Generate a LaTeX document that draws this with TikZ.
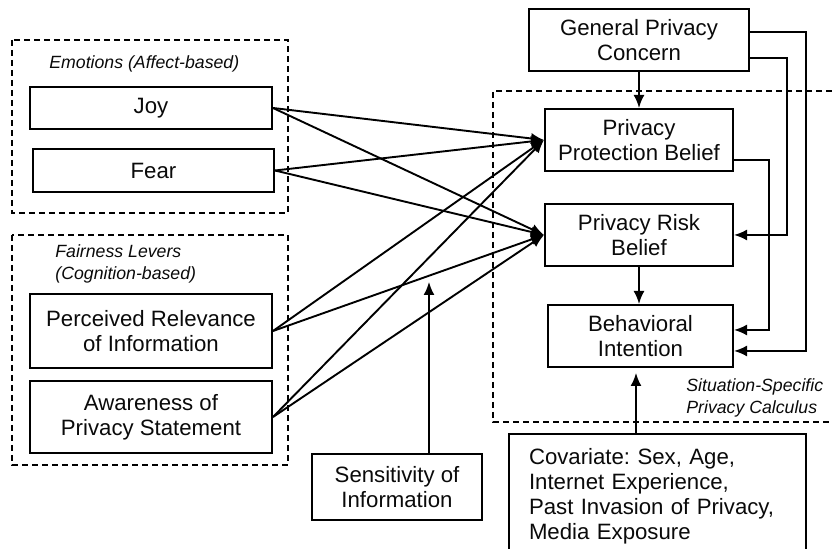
\documentclass[tikz,border=0pt]{standalone}
\usepackage{fontspec}
\setmainfont{Liberation Sans}
\usepackage{tikz}
\usetikzlibrary{
  arrows.meta,
  positioning,
  calc
}
\definecolor{linecolor}{RGB}{0, 0, 0}
\definecolor{labelcolor}{RGB}{10, 10, 10}
\tikzset{
blocktext/.style={
  align=center,
  font=\fontsize{11.1}{12.5}\selectfont,
  text=labelcolor
},
constructbox/.style={
  draw=linecolor,
  line width=1pt,
  fill=white,
  inner sep=0pt,
  blocktext
},
grouplabel/.style={
  font=\itshape\fontsize{8.85}{11}\selectfont,
  text=labelcolor,
  align=left,
  inner sep=0pt
},
groupframe/.style={
  draw=linecolor,
  dash pattern=on 3pt off 2pt,
  line width=0.65pt
},
arrow/.style={
  -{Latex[length=6.5pt,width=5.5pt]},
  line width=0.95pt,
  draw=linecolor
}
}
\frenchspacing

\begin{document}
\begin{tikzpicture}[x=0.5pt, y=-0.5pt]
  \useasboundingbox (0,0) rectangle (832,549);
  \clip (0,0) rectangle (832,549);

  \draw[groupframe] (12,40) rectangle (288,213);
  \draw[groupframe] (12,235) rectangle (288,465);
  \draw[groupframe] (832,91) -| (493,422) -- (832,422);

  \node[grouplabel, anchor=north west] (emolabel) at (49,55) {Emotions (Affect-based)};
  \node[grouplabel, anchor=north west] (fairlabel) at (55,244) {Fairness Levers\\(Cognition-based)};
  \node[grouplabel, anchor=north west] (calclabel) at (686,378) {Situation-Specific\\Privacy Calculus};

  \node[constructbox, minimum width=121pt, minimum height=21pt] (joy) at (151,108) {Joy};
  \node[constructbox, minimum width=120.5pt, minimum height=21.5pt] (fear) at (153.5,170.5) {Fear};
  \node[constructbox, minimum width=121pt, minimum height=37pt] (relev) at (151,331) {Perceived Relevance\\of Information};
  \node[constructbox, minimum width=121pt, minimum height=36pt] (aware) at (151,417) {Awareness of\\Privacy Statement};
  \node[constructbox, minimum width=85pt, minimum height=33pt] (sens) at (397,487) {Sensitivity of\\Information};
  \node[constructbox, minimum width=110pt, minimum height=31pt] (gpc) at (639,40) {General Privacy\\Concern};
  \node[constructbox, minimum width=94pt, minimum height=31pt] (ppb) at (639,140) {Privacy\\Protection Belief};
  \node[constructbox, minimum width=94pt, minimum height=31pt] (prb) at (639,235) {Privacy Risk\\Belief};
  \node[constructbox, minimum width=92.5pt, minimum height=31pt] (bi) at (640.5,336) {Behavioral\\Intention};
  \node[constructbox, anchor=north west, align=left, text width=128.5pt, inner xsep=10pt, inner ysep=7.4pt] (cov) at (508,433)
    {Covariate: Sex, Age,\\Internet Experience,\\Past Invasion of Privacy,\\Media Exposure};

  \foreach \src in {joy,fear,relev,aware} {
    \draw[arrow] (\src.east) -- (ppb.west);
    \draw[arrow] (\src.east) -- (prb.west);
  }
  \draw[arrow] (gpc.south) -- (ppb.north);
  \draw[arrow] (prb.south) -- (bi.north -| prb.south);
  \draw[arrow] ($(gpc.east)+(0,-8)$) -| ($(bi.east)+(72,15)$) -- ($(bi.east)+(0,15)$);
  \draw[arrow] ($(gpc.east)+(0,18)$) -| ($(prb.east)+(53,0)$) -- (prb.east);
  \draw[arrow] ($(ppb.east)+(0,20)$) -| ($(bi.east)+(35,-6)$) -- ($(bi.east)+(0,-6)$);

  \coordinate (senstip) at (429,282);
  \draw[arrow] (senstip |- sens.north) -- (senstip);
  \coordinate (covtip) at (636,373);
  \draw[arrow] (covtip |- cov.north) -- (covtip);
\end{tikzpicture}
\end{document}
